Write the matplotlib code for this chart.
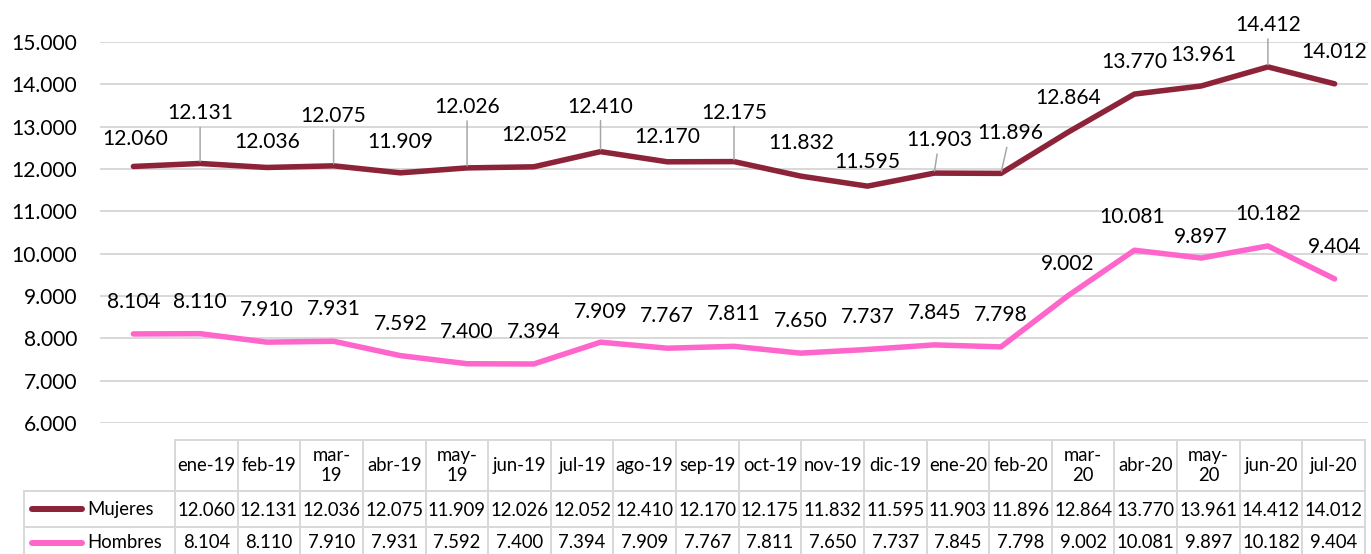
import matplotlib
matplotlib.use("Agg")
import matplotlib.pyplot as plt
import numpy as np

plt.rcParams['font.family'] = ['Lato', 'DejaVu Sans']

meses = ['ene-19', 'feb-19', 'mar-19', 'abr-19', 'may-19', 'jun-19', 'jul-19',
         'ago-19', 'sep-19', 'oct-19', 'nov-19', 'dic-19', 'ene-20', 'feb-20',
         'mar-20', 'abr-20', 'may-20', 'jun-20', 'jul-20']
mujeres = [12060, 12131, 12036, 12075, 11909, 12026, 12052, 12410, 12170, 12175,
           11832, 11595, 11903, 11896, 12864, 13770, 13961, 14412, 14012]
hombres = [8104, 8110, 7910, 7931, 7592, 7400, 7394, 7909, 7767, 7811,
           7650, 7737, 7845, 7798, 9002, 10081, 9897, 10182, 9404]

c_muj = '#8C2339'
c_hom = '#FF66CC'
c_grid = '#D9D9D9'

# label placement (pixels): dx, dy, leader line
off_muj = [(2, 27, 0), (0, 50, 1), (0, 25, 0), (0, 50, 1), (0, 31, 0), (0, 61, 1),
           (0, 32, 0), (0, 45, 1), (0, 25, 0), (0, 49, 1), (0, 33, 0), (0, 24, 0),
           (5, 33, 1), (9, 40, 1), (0, 34, 0), (0, 32, 0), (2, 31, 0), (0, 42, 1),
           (0, 32, 0)]
off_hom = [(0, 32, 0)] * 19
off_hom[7] = (0, 30, 0)
off_hom[16] = (0, 21, 0)
off_hom[15] = (-2, 33, 0)


def fmt(v):
    return '{:,}'.format(v).replace(',', '.')


W, H = 1371, 554
fig = plt.figure(figsize=(W / 72, H / 72), dpi=72)
ax = fig.add_axes([100 / W, 1 - 423 / H, 1268 / W, 381 / H])

x = np.arange(len(meses))
ax.plot(x, mujeres, color=c_muj, lw=5.5, solid_capstyle='round', solid_joinstyle='round', zorder=3)
ax.plot(x, hombres, color=c_hom, lw=5.5, solid_capstyle='round', solid_joinstyle='round', zorder=3)

for serie, offs in ((mujeres, off_muj), (hombres, off_hom)):
    for i, v in enumerate(serie):
        dx, dy, lead = offs[i]
        kw = {}
        if lead:
            kw['arrowprops'] = dict(arrowstyle='-', color='#A6A6A6', lw=1.5,
                                    shrinkA=2, shrinkB=2)
        ax.annotate(fmt(v), (i, v), xytext=(dx, dy), textcoords='offset points',
                    ha='center', va='center', fontsize=21, color='black', **kw)

ax.set_xlim(-0.5, len(meses) - 0.5)
ax.set_ylim(6000, 15000)
ax.set_yticks(np.arange(6000, 15001, 1000))
ax.set_yticklabels([fmt(t) for t in range(6000, 15001, 1000)], fontsize=21)
ax.set_xticks([])
ax.tick_params(axis='y', length=0, pad=23)
ax.grid(axis='y', color=c_grid, lw=2)
ax.set_axisbelow(True)
for s in ax.spines.values():
    s.set_visible(False)

# data table drawn in pixel coordinates
tab = fig.add_axes([0, 0, 1, 1])
tab.set_xlim(0, W)
tab.set_ylim(H, 0)
tab.axis('off')

x0, x1 = 175, 1365
cw = (x1 - x0) / len(meses)
rows = [440, 491, 527, 563]
lk = dict(color=c_grid, lw=2)
tab.plot([x0, x1], [rows[0], rows[0]], **lk)
for r in rows[1:]:
    tab.plot([24, x1], [r, r], **lk)
for j in range(len(meses) + 1):
    tab.plot([x0 + j * cw] * 2, [rows[0], rows[3]], **lk)
tab.plot([24, 24], [rows[1], rows[3]], **lk)

for j, m in enumerate(meses):
    lab = m.replace('-', '-\n') if m[:3] in ('mar', 'may') else m
    tab.text(x0 + (j + 0.5) * cw, (rows[0] + rows[1]) / 2, lab, ha='center', va='center',
             fontsize=18.5, linespacing=1.15)
    tab.text(x0 + (j + 0.5) * cw, (rows[1] + rows[2]) / 2 + 1, fmt(mujeres[j]),
             ha='center', va='center', fontsize=18.5)
    tab.text(x0 + (j + 0.5) * cw, (rows[2] + rows[3]) / 2 - 2, fmt(hombres[j]),
             ha='center', va='center', fontsize=18.5)

for k, (nombre, col) in enumerate((('Mujeres', c_muj), ('Hombres', c_hom))):
    yc = (rows[k + 1] + rows[k + 2]) / 2 - (0 if k == 0 else 2)
    tab.plot([32, 82], [yc, yc], color=col, lw=6, solid_capstyle='round')
    tab.text(87, yc, nombre, ha='left', va='center', fontsize=18.5)

fig.savefig('out.png', dpi=72)
